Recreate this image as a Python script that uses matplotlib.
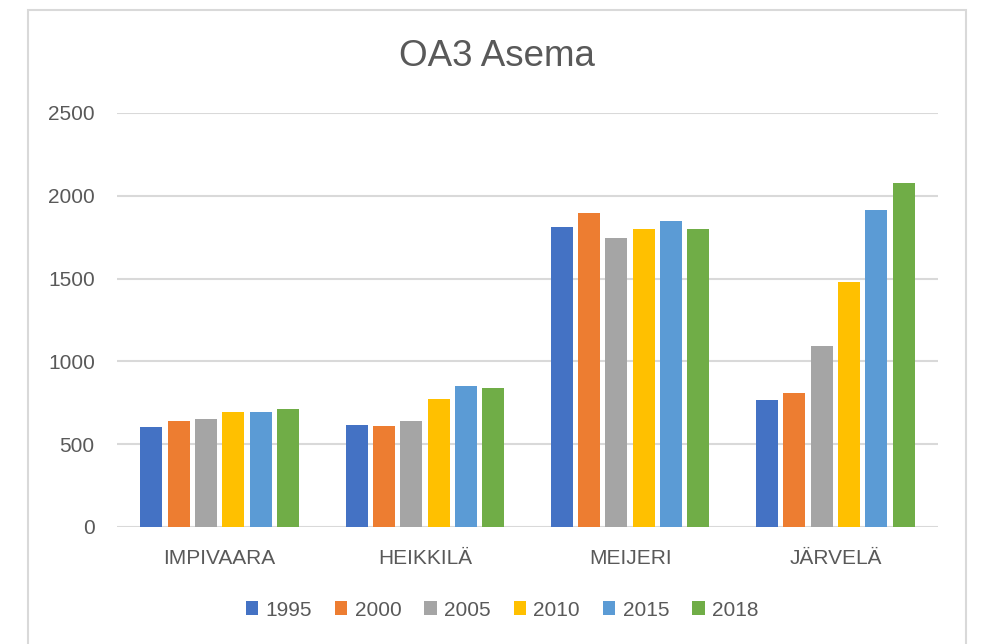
import numpy as np
import matplotlib
matplotlib.use("Agg")
import matplotlib.pyplot as plt
from matplotlib.patches import Rectangle

# data
stations = ["IMPIVAARA", "HEIKKILÄ", "MEIJERI", "JÄRVELÄ"]
years = ["1995", "2000", "2005", "2010", "2015", "2018"]
v1995 = [602, 614, 1811, 769]
v2000 = [640, 610, 1894, 811]
v2005 = [652, 640, 1743, 1093]
v2010 = [694, 771, 1800, 1479]
v2015 = [694, 853, 1850, 1916]
v2018 = [712, 837, 1800, 2075]
series = [v1995, v2000, v2005, v2010, v2015, v2018]
colors = ["#4472C4", "#ED7D31", "#A5A5A5", "#FFC000", "#5B9BD5", "#70AD47"]
yticks = [0, 500, 1000, 1500, 2000, 2500]

TXT = "#595959"
GRID = "#D9D9D9"
plt.rcParams["font.family"] = ["Liberation Sans", "DejaVu Sans"]

fig = plt.figure(figsize=(9.82, 6.44), dpi=100)
W, H = 982, 644

# chart area border
fig.patches.append(Rectangle((28 / W, -0.05), (966 - 28) / W, 1.05 - 10 / H,
                             transform=fig.transFigure, fill=False,
                             edgecolor=GRID, linewidth=1.5))

ax = fig.add_axes([117 / W, 1 - 527 / H, (938 - 117) / W, (527 - 113) / H])

x = np.arange(len(stations))
slot = 0.133
bw = 0.107
for i, (vals, c, lab) in enumerate(zip(series, colors, years)):
    off = (i - 2.5) * slot
    ax.bar(x + off, vals, bw, color=c, label=lab, zorder=3)

ax.set_xlim(-0.5, len(stations) - 0.5)
ax.set_ylim(0, 2500)
ax.set_yticks(yticks)
ax.set_xticks(x)
ax.set_xticklabels(stations)
ax.grid(True, axis="y", color=GRID, linewidth=1.5, zorder=0)
ax.set_axisbelow(True)
for s in ax.spines.values():
    s.set_visible(False)
ax.tick_params(axis="both", length=0, colors=TXT, labelsize=15)
ax.tick_params(axis="y", pad=16)
ax.tick_params(axis="x", pad=16)

fig.text(497 / W, 1 - 56 / H, "OA3 Asema", ha="center", va="center",
         fontsize=26.5, color=TXT)

leg = ax.legend(loc="center", bbox_to_anchor=(502 / W, 1 - 610 / H),
                bbox_transform=fig.transFigure, ncol=6, frameon=False,
                fontsize=15, handlelength=0.6, handleheight=0.62,
                handletextpad=0.35, columnspacing=1.1, labelcolor=TXT)

fig.savefig("out.png", dpi=100)
